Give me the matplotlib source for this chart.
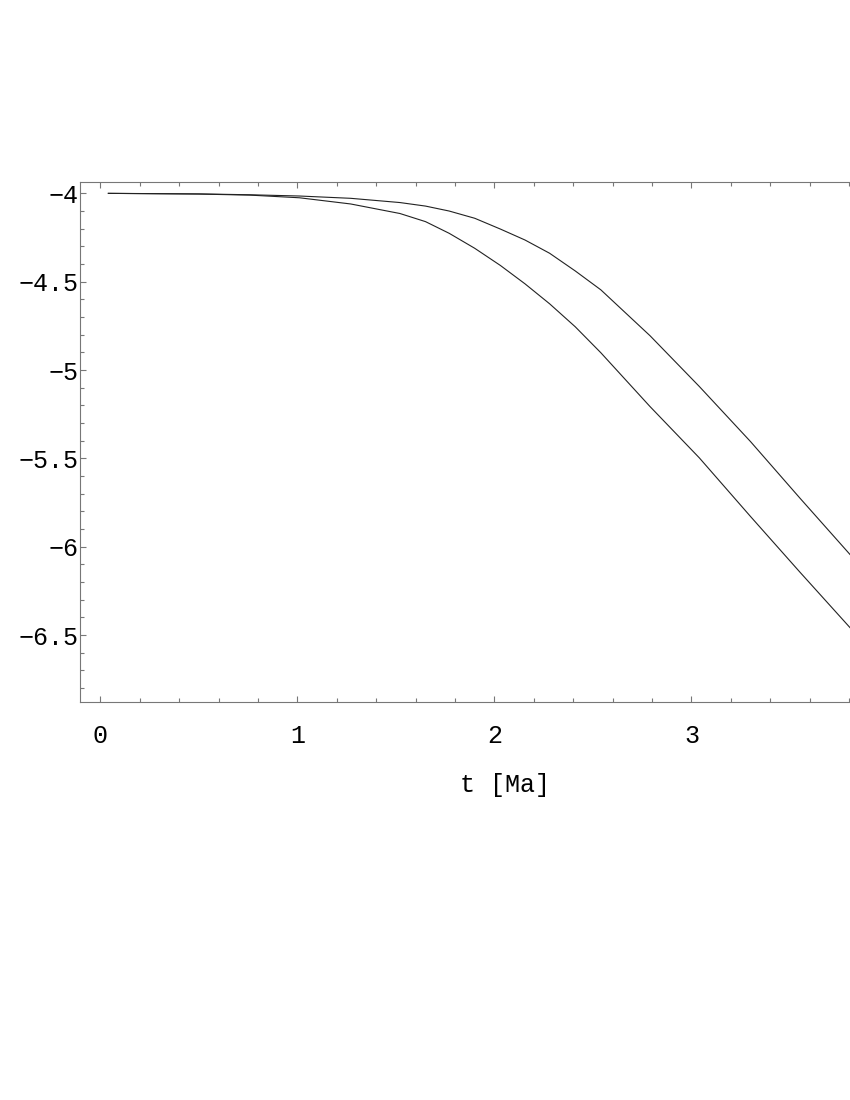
import matplotlib.pyplot as plt
from matplotlib.ticker import MultipleLocator

# values (t in Ma)
t = [0.04, 0.5, 0.76, 1.01, 1.27, 1.52, 1.65, 1.77, 1.9, 2.03, 2.155, 2.28, 2.41, 2.54, 2.79, 3.04, 3.3, 3.55, 3.805]
v_upper = [-4.0, -4.003, -4.008, -4.015, -4.028, -4.052, -4.072, -4.100, -4.141, -4.202, -4.264,
           -4.339, -4.439, -4.546, -4.806, -5.093, -5.405, -5.724, -6.044]
v_lower = [-4.0, -4.004, -4.010, -4.025, -4.060, -4.114, -4.160, -4.226, -4.311, -4.408, -4.512,
           -4.625, -4.755, -4.902, -5.207, -5.497, -5.829, -6.143, -6.458]

x_ticks = [0, 1, 2, 3]
y_ticks = [-4, -4.5, -5, -5.5, -6, -6.5]
y_tick_labels = ["\u22124", "\u22124.5", "\u22125", "\u22125.5", "\u22126", "\u22126.5"]

plt.rcParams['font.family'] = ['Liberation Mono', 'DejaVu Sans Mono']

fig = plt.figure(figsize=(8.5, 11), dpi=100)
ax = fig.add_axes([80 / 850, 1 - 702 / 1100, 770 / 850, (702 - 181.7) / 1100])

ax.plot(t, v_upper, color='#222222', lw=0.8)
ax.plot(t, v_lower, color='#222222', lw=0.8)

ax.set_xlim(-0.104, 3.805)
ax.set_ylim(-6.879, -3.934)

ax.set_xticks(x_ticks)
ax.set_xticklabels([str(x) for x in x_ticks])
ax.set_yticks(y_ticks)
ax.set_yticklabels(y_tick_labels)
ax.xaxis.set_minor_locator(MultipleLocator(0.2))
ax.yaxis.set_minor_locator(MultipleLocator(0.1))

ax.tick_params(which='both', direction='in', top=True, right=False, color='#777777', width=0.8)
ax.tick_params(which='major', length=4.5)
ax.tick_params(which='minor', length=3)
ax.tick_params(axis='x', which='major', pad=16, labelsize=18)
ax.tick_params(axis='y', which='major', pad=1, labelsize=18)

for side in ['left', 'bottom', 'top']:
    ax.spines[side].set_color('#777777')
    ax.spines[side].set_linewidth(0.8)
ax.spines['right'].set_visible(False)

ax.set_xlabel("t [Ma]", fontsize=18)
ax.xaxis.set_label_coords(0.552, -0.1365)

fig.savefig("out.png", dpi=100)
